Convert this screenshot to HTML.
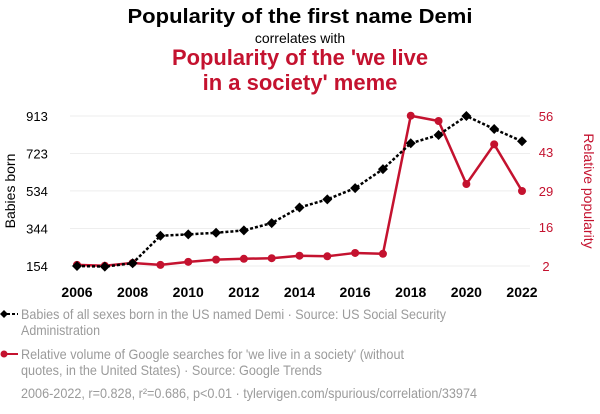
<!DOCTYPE html>
<html><head><meta charset="utf-8"><style>
body{margin:0;background:#fff;width:600px;height:414px;overflow:hidden;font-family:"Liberation Sans",sans-serif}
svg{display:block}
</style></head><body>
<svg id="chart" width="600" height="414">
<text x="300" y="23" text-anchor="middle" font-size="20" font-weight="bold" fill="#000" textLength="345" lengthAdjust="spacingAndGlyphs">Popularity of the first name Demi</text>
<text x="300" y="43" text-anchor="middle" font-size="14" fill="#000">correlates with</text>
<text x="300" y="65" text-anchor="middle" font-size="22" font-weight="bold" fill="#c4122f" textLength="256" lengthAdjust="spacingAndGlyphs">Popularity of the 'we live</text>
<text x="300" y="90" text-anchor="middle" font-size="22" font-weight="bold" fill="#c4122f">in a society' meme</text>
<g id="grid"></g><g id="axes"></g><g id="series"></g>
<text transform="translate(15,191) rotate(-90)" text-anchor="middle" font-size="14" fill="#000">Babies born</text>
<text transform="translate(584,191) rotate(90)" text-anchor="middle" font-size="14" fill="#c4122f">Relative popularity</text>
<g>
<line x1="2" y1="314" x2="18" y2="314" stroke="#000" stroke-width="2" stroke-dasharray="3,2"/>
<polygon points="4,310 8,314 4,318 0,314" fill="#000"/>
<text x="21" y="319" font-size="14" fill="#9b9b9b" textLength="425" lengthAdjust="spacingAndGlyphs">Babies of all sexes born in the US named Demi · Source: US Social Security</text>
<text x="21" y="335" font-size="14" fill="#9b9b9b" textLength="79" lengthAdjust="spacingAndGlyphs">Administration</text>
</g>
<g>
<line x1="2" y1="354" x2="18" y2="354" stroke="#c4122f" stroke-width="2"/>
<circle cx="4" cy="354" r="3.5" fill="#c4122f"/>
<text x="21" y="359" font-size="14" fill="#9b9b9b" textLength="383" lengthAdjust="spacingAndGlyphs">Relative volume of Google searches for 'we live in a society' (without</text>
<text x="21" y="375" font-size="14" fill="#9b9b9b" textLength="301" lengthAdjust="spacingAndGlyphs">quotes, in the United States) · Source: Google Trends</text>
</g>
<text x="21" y="398" font-size="14" fill="#9b9b9b" textLength="456" lengthAdjust="spacingAndGlyphs">2006-2022, r=0.828, r²=0.686, p&lt;0.01 · tylervigen.com/spurious/correlation/33974</text>
</svg>
<script>
const years=[2006,2007,2008,2009,2010,2011,2012,2013,2014,2015,2016,2017,2018,2019,2020,2021,2022];
const babies=[154,151,168,307,314,322,334,371,450,491,548,644,775,817,913,847,785];
const meme=[2.4,2.1,3.1,2.4,3.5,4.3,4.6,4.8,5.7,5.5,6.7,6.4,56.1,54.2,31.5,45.8,29];
const leftTicks=[154,344,534,723,913];
const rightTicks=[2,16,29,43,56];
const xTicks=[2006,2008,2010,2012,2014,2016,2018,2020,2022];
const NS="http://www.w3.org/2000/svg";
const xS=y=>77+(y-2006)*(522-77)/16;
const yL=v=>266-(v-154)*150/(913-154);
const yR=v=>266-(v-2)*150/54;
function mk(tag,attrs,parent){const e=document.createElementNS(NS,tag);for(const k in attrs)e.setAttribute(k,attrs[k]);document.getElementById(parent).appendChild(e);return e;}
leftTicks.forEach((t,i)=>{
 const g=mk('line',{x1:70,x2:530,y1:yL(t),y2:yL(t),stroke:'#eeeeee','stroke-width':1},'grid');
 
 
 const l=mk('text',{x:37,y:yL(t)+5,'text-anchor':'middle','font-size':13,fill:'#000'},'axes');l.textContent=t;
 
 
});
rightTicks.forEach(t=>{
 const l=mk('text',{x:546,y:yR(t)+5,'text-anchor':'middle','font-size':13,fill:'#c4122f'},'axes');l.textContent=t;
 
 
});
xTicks.forEach(t=>{
 const l=mk('text',{x:xS(t),y:297,'text-anchor':'middle','font-size':14,'font-weight':'bold',fill:'#000'},'axes');l.textContent=t;
 
 
});
const rl=mk('polyline',{points:years.map((y,i)=>xS(y)+','+yR(meme[i])).join(' '),fill:'none',stroke:'#c4122f','stroke-width':2.5},'series');


years.forEach((y,i)=>{const c=mk('circle',{cx:xS(y),cy:yR(meme[i]),r:4,fill:'#c4122f'},'series');
 
 });
const bl=mk('polyline',{points:years.map((y,i)=>xS(y)+','+yL(babies[i])).join(' '),fill:'none',stroke:'#000','stroke-width':2.5,'stroke-dasharray':'3,2'},'series');


years.forEach((y,i)=>{const x=xS(y),v=yL(babies[i]);const p=mk('polygon',{points:`${x},${v-5} ${x+5},${v} ${x},${v+5} ${x-5},${v}`,fill:'#000'},'series');
 
 });
</script>
</body></html>
